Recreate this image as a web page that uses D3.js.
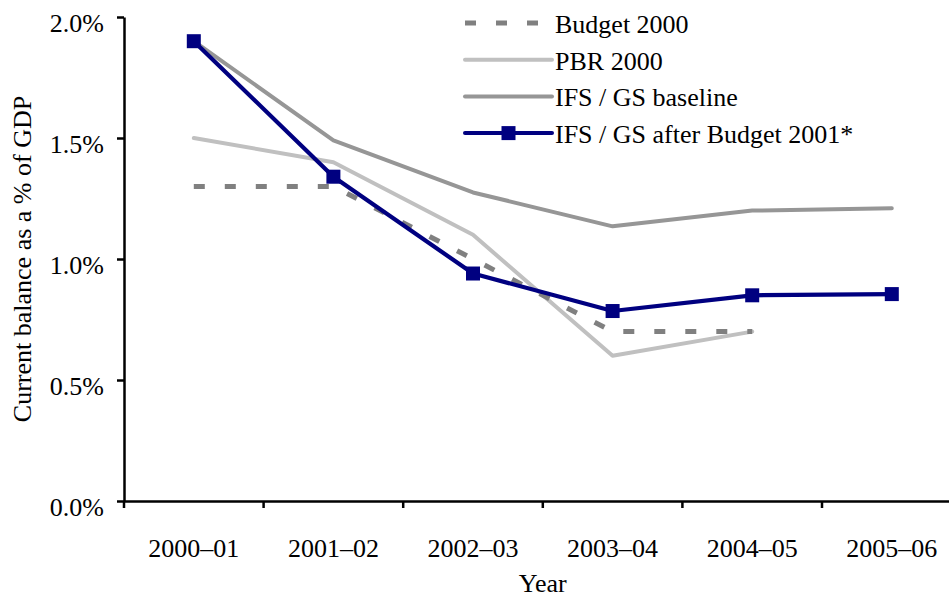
<!DOCTYPE html>
<html>
<head>
<meta charset="utf-8">
<script src="https://cdn.jsdelivr.net/npm/d3@7"></script>
<style>
  html, body { margin: 0; padding: 0; background: #fff; }
  svg { display: block; }
  text { font-family: "Liberation Serif", "Times New Roman", serif; font-size: 26px; fill: #000; }
</style>
</head>
<body>
<svg id="chart" width="949" height="599"></svg>
<script>
// Fiscal years on the horizontal axis
const years = ["2000–01", "2001–02", "2002–03", "2003–04", "2004–05", "2005–06"];

// Current balance, % of GDP
const budget2000   = [1.3, 1.3, 1.0, 0.7, 0.7];
const pbr2000      = [1.5, 1.4, 1.1, 0.6, 0.7];
const ifsBaseline  = [1.9, 1.49, 1.275, 1.135, 1.2, 1.21];
const ifsAfter2001 = [1.9, 1.34, 0.94, 0.785, 0.85, 0.855];

const yTicks = [0, 0.5, 1.0, 1.5, 2.0];

const seriesNames = ["Budget 2000", "PBR 2000", "IFS / GS baseline", "IFS / GS after Budget 2001*"];

const svg = d3.select("#chart");

const plotLeft = 124, plotRight = 961.6, plotTop = 17, plotBottom = 501;

const x = d3.scaleBand().domain(years).range([plotLeft, plotRight]).padding(0);
const y = d3.scaleLinear().domain([0, 2]).range([plotBottom, plotTop]);
const cx = d => x(d) + x.bandwidth() / 2;

// Y axis
const yAxis = svg.append("g").attr("transform", `translate(${plotLeft},0)`)
  .call(d3.axisLeft(y).tickValues(yTicks).tickSize(7).tickSizeOuter(0)
        .tickFormat(d => d.toFixed(1) + "%"));
yAxis.attr("font-family", null).attr("font-size", null);
yAxis.select(".domain").attr("stroke", "#000").attr("stroke-width", 2.5);
yAxis.selectAll(".tick line").attr("stroke", "#000").attr("stroke-width", 2.5);
yAxis.selectAll(".tick text").attr("x", -20).attr("dy", "0.55em");

// X axis: category labels centred, ticks at category boundaries
const xAxis = svg.append("g").attr("transform", `translate(0,${plotBottom})`)
  .call(d3.axisBottom(x).tickSize(0).tickSizeOuter(0));
xAxis.attr("font-family", null).attr("font-size", null);
xAxis.select(".domain").attr("stroke", "#000").attr("stroke-width", 2.5);
xAxis.selectAll(".tick text").attr("y", 0).attr("dy", 56);
const bounds = years.map(d => x(d)).concat([x(years[years.length - 1]) + x.bandwidth()]);
xAxis.selectAll("line.bound").data(bounds).join("line")
  .attr("class", "bound")
  .attr("x1", d => d).attr("x2", d => d)
  .attr("y1", 0).attr("y2", 7)
  .attr("stroke", "#000").attr("stroke-width", 2.5);

// Axis titles
svg.append("text")
  .attr("x", (plotLeft + plotRight) / 2).attr("y", 592)
  .attr("text-anchor", "middle").text("Year");
svg.append("text")
  .attr("transform", `translate(31,${(plotTop + plotBottom) / 2}) rotate(-90)`)
  .attr("text-anchor", "middle").text("Current balance as a % of GDP");

// Lines
const line = d3.line().x((d, i) => cx(years[i])).y(d => y(d));

const styles = [
  { data: ifsBaseline,  color: "#969696", width: 4,   dash: null,    cap: "round" },
  { data: pbr2000,      color: "#c0c0c0", width: 4,   dash: null,    cap: "round" },
  { data: budget2000,   color: "#808080", width: 5,   dash: "11,20", cap: "butt" },
  { data: ifsAfter2001, color: "#000080", width: 4.2, dash: null,    cap: "round" }
];

styles.forEach(s => {
  svg.append("path")
    .attr("d", line(s.data))
    .attr("fill", "none")
    .attr("stroke", s.color)
    .attr("stroke-width", s.width)
    .attr("stroke-linejoin", "round")
    .attr("stroke-linecap", s.cap)
    .attr("stroke-dasharray", s.dash);
});

// Square markers on the post-Budget 2001 series
const m = 14;
svg.selectAll("rect.marker").data(ifsAfter2001).join("rect")
  .attr("class", "marker")
  .attr("x", (d, i) => cx(years[i]) - m / 2)
  .attr("y", d => y(d) - m / 2)
  .attr("width", m).attr("height", m)
  .attr("fill", "#000080");

// Legend
const legend = [
  { name: seriesNames[0], color: "#808080", width: 5, dash: "11,20", cap: "butt",  marker: false },
  { name: seriesNames[1], color: "#c0c0c0", width: 4, dash: null,    cap: "round", marker: false },
  { name: seriesNames[2], color: "#969696", width: 4, dash: null,    cap: "round", marker: false },
  { name: seriesNames[3], color: "#000080", width: 4, dash: null,    cap: "round", marker: true }
];
const lx0 = 465, lx1 = 552, ly0 = 23, lstep = 36.7;
legend.forEach((l, i) => {
  const yy = ly0 + i * lstep;
  svg.append("line")
    .attr("x1", lx0).attr("x2", lx1).attr("y1", yy).attr("y2", yy)
    .attr("stroke", l.color).attr("stroke-width", l.width)
    .attr("stroke-linecap", l.cap).attr("stroke-dasharray", l.dash);
  if (l.marker) {
    svg.append("rect")
      .attr("x", (lx0 + lx1) / 2 - m / 2).attr("y", yy - m / 2)
      .attr("width", m).attr("height", m).attr("fill", l.color);
  }
  svg.append("text").attr("x", 555).attr("y", yy + 10).text(l.name);
});
</script>
</body>
</html>
